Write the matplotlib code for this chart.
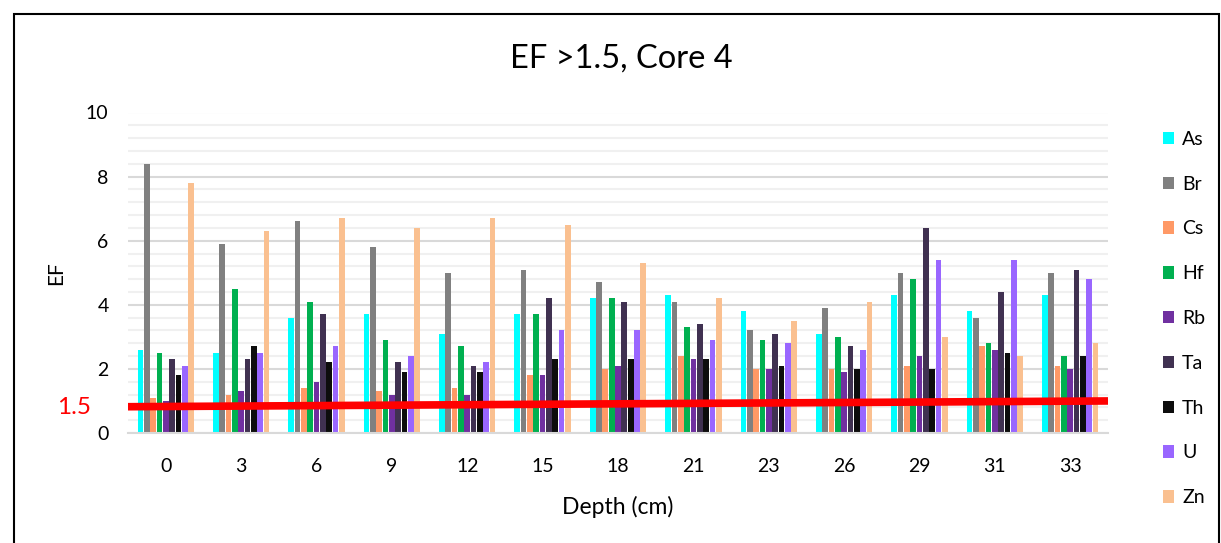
import matplotlib
matplotlib.use("Agg")
import matplotlib.pyplot as plt
from matplotlib.patches import Rectangle
import numpy as np

depths = ["0", "3", "6", "9", "12", "15", "18", "21", "23", "26", "29", "31", "33"]
elements = ["As", "Br", "Cs", "Hf", "Rb", "Ta", "Th", "U", "Zn"]
As = [2.6, 2.5, 3.6, 3.7, 3.1, 3.7, 4.2, 4.3, 3.8, 3.1, 4.3, 3.8, 4.3]
Br = [8.4, 5.9, 6.6, 5.8, 5.0, 5.1, 4.7, 4.1, 3.2, 3.9, 5.0, 3.6, 5.0]
Cs = [1.1, 1.2, 1.4, 1.3, 1.4, 1.8, 2.0, 2.4, 2.0, 2.0, 2.1, 2.7, 2.1]
Hf = [2.5, 4.5, 4.1, 2.9, 2.7, 3.7, 4.2, 3.3, 2.9, 3.0, 4.8, 2.8, 2.4]
Rb = [1.0, 1.3, 1.6, 1.2, 1.2, 1.8, 2.1, 2.3, 2.0, 1.9, 2.4, 2.6, 2.0]
Ta = [2.3, 2.3, 3.7, 2.2, 2.1, 4.2, 4.1, 3.4, 3.1, 2.7, 6.4, 4.4, 5.1]
Th = [1.8, 2.7, 2.2, 1.9, 1.9, 2.3, 2.3, 2.3, 2.1, 2.0, 2.0, 2.5, 2.4]
U = [2.1, 2.5, 2.7, 2.4, 2.2, 3.2, 3.2, 2.9, 2.8, 2.6, 5.4, 5.4, 4.8]
Zn = [7.8, 6.3, 6.7, 6.4, 6.7, 6.5, 5.3, 4.2, 3.5, 4.1, 3.0, 2.4, 2.8]
series = [As, Br, Cs, Hf, Rb, Ta, Th, U, Zn]
colors = ["#00FFFF", "#808080", "#FF9966", "#00B050", "#7030A0",
          "#403151", "#0D0D0D", "#9966FF", "#FAC090"]
threshold_x = [-0.5, 12.5]
threshold_y = [0.82, 1.0]
threshold_label = "1.5"

plt.rcParams['font.family'] = ['Lato', 'DejaVu Sans']

fig = plt.figure(figsize=(12.21, 5.43), dpi=100)
ax = fig.add_axes([128/1221, 1-433/543, 980/1221, (433-112.5)/543])

x = np.arange(len(depths))
step = 0.084
for i, (vals, c, name) in enumerate(zip(series, colors, elements)):
    off = (i - 4) * step
    ax.bar(x + off, vals, width=step*0.9, color=c, label=name, zorder=3, linewidth=0)

ax.plot(threshold_x, threshold_y, color="#FF0000", lw=5.5, zorder=5, solid_capstyle='butt')

ax.set_xlim(-0.5, 12.5)
ax.set_ylim(0, 10)
ax.set_xticks(x)
ax.set_xticklabels(depths, fontsize=14)
ax.set_yticks(np.arange(0, 11, 2))
ax.set_yticklabels([str(v) for v in range(0, 11, 2)], fontsize=14)
ax.set_yticks(np.arange(0, 10.01, 0.4), minor=True)
ax.grid(axis='y', which='major', color='#D9D9D9', lw=1.5, zorder=0)
ax.grid(axis='y', which='minor', color='#F0F0F0', lw=1.5, zorder=0)
ax.tick_params(axis='both', which='both', length=0)
ax.tick_params(axis='x', pad=18)
ax.tick_params(axis='y', pad=14)
for s in ['top', 'right', 'left']:
    ax.spines[s].set_visible(False)
ax.spines['bottom'].set_color('#D9D9D9')
ax.spines['bottom'].set_linewidth(1.5)
ax.spines['bottom'].set_zorder(4)

ax.set_xlabel("Depth (cm)", fontsize=16.5, labelpad=15)
ax.set_ylabel("EF", fontsize=15, labelpad=14)
fig.text(621/1221, 1-59/543, "EF >1.5, Core 4", fontsize=23.5, ha='center', va='center')
fig.text(74.5/1221, 1-408/543, threshold_label, fontsize=17.5, color="#FF0000", ha='center', va='center')

leg = fig.legend(loc='upper left', bbox_to_anchor=(1155/1221, 1-123/543), frameon=False,
                 fontsize=14, handlelength=0.6, handleheight=0.6, handletextpad=0.4,
                 labelspacing=1.43, borderaxespad=0)

fig.patches.append(Rectangle((14/1221, -0.05), (1219-14)/1221, 1-14/543+0.05,
                             transform=fig.transFigure, fill=False, edgecolor='black', lw=1.5))

fig.savefig("out.png", dpi=100)
